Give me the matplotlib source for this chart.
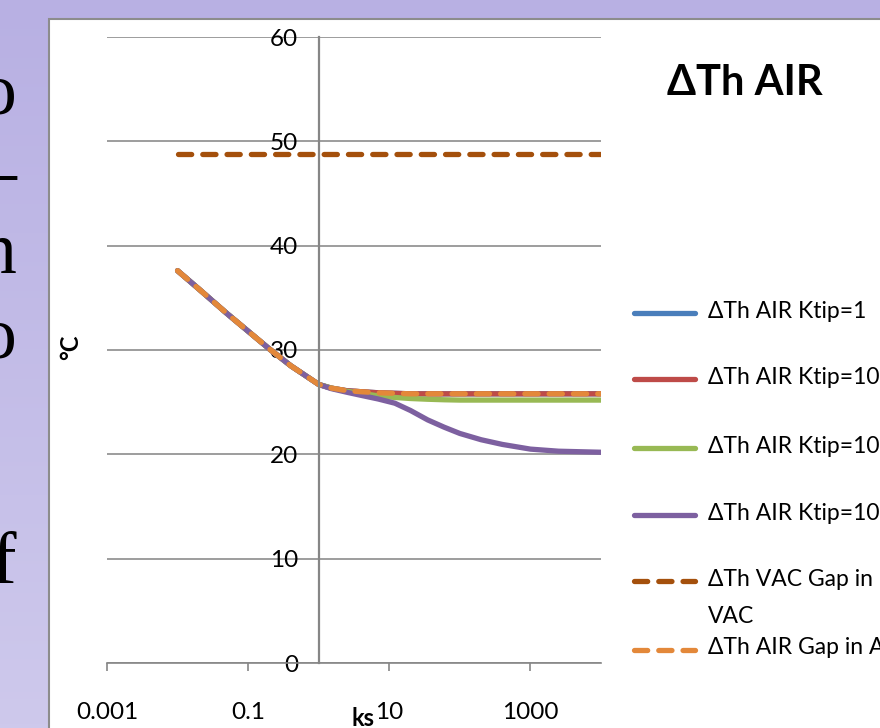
import numpy as np
import matplotlib
matplotlib.use("Agg")
import matplotlib.pyplot as plt
from matplotlib.lines import Line2D
from matplotlib.patches import Rectangle
from matplotlib.ticker import NullLocator

plt.rcParams['font.family'] = ['Lato', 'DejaVu Sans']

# data (x in ks, values in °C)
ks = [0.01, 0.02, 0.05, 0.1, 0.2, 0.4, 0.7, 1, 1.5, 2.5, 4, 7, 12, 20, 35, 60,
      100, 200, 400, 1000, 2500, 10000]
ktip_1 = [37.6, 35.85, 33.5, 31.8, 30.1, 28.5, 27.4, 26.7, 26.35, 26.1, 26.0, 25.9,
          25.85, 25.8, 25.8, 25.8, 25.8, 25.8, 25.8, 25.8, 25.8, 25.8]
ktip_100 = [37.6, 35.85, 33.5, 31.8, 30.1, 28.5, 27.4, 26.7, 26.35, 26.1, 26.0, 25.9,
            25.85, 25.8, 25.8, 25.8, 25.8, 25.8, 25.8, 25.8, 25.8, 25.8]
ktip_1000 = [37.6, 35.85, 33.5, 31.8, 30.1, 28.5, 27.4, 26.7, 26.35, 26.05, 25.85, 25.6,
             25.45, 25.35, 25.28, 25.23, 25.2, 25.2, 25.2, 25.2, 25.2, 25.2]
ktip_10000 = [37.6, 35.85, 33.5, 31.8, 30.1, 28.5, 27.4, 26.7, 26.3, 25.95, 25.65, 25.3,
              24.9, 24.2, 23.3, 22.6, 22.0, 21.4, 20.95, 20.5, 20.3, 20.2]
vac_gap = [48.8] * len(ks)
air_gap = [37.6, 35.85, 33.5, 31.8, 30.1, 28.5, 27.4, 26.7, 26.35, 26.1, 26.0, 25.9,
           25.85, 25.8, 25.8, 25.8, 25.8, 25.8, 25.8, 25.8, 25.8, 25.8]

labels = ["\u0394Th AIR Ktip=1", "\u0394Th AIR Ktip=100", "\u0394Th AIR Ktip=1000",
          "\u0394Th AIR Ktip=10000", "\u0394Th VAC Gap in\nVAC", "\u0394Th AIR Gap in AIR"]
colors = ['#4A7EBB', '#BE4B48', '#98B954', '#7D60A0', '#A4500C', '#E3883A']
series = [ktip_1, ktip_100, ktip_1000, ktip_10000, vac_gap, air_gap]
dashed = [False, False, False, False, True, True]

xticks = [0.001, 0.1, 10, 1000]
xtick_labels = ['0.001', '0.1', '10', '1000']
yticks = [0, 10, 20, 30, 40, 50, 60]

W, H = 880, 728
fig = plt.figure(figsize=(8.8, 7.28), dpi=100)

# slide background + chart area
bg = fig.add_axes([0, 0, 1, 1])
top = np.array([0xB8, 0xB0, 0xE3]) / 255
bot = np.array([0xCE, 0xC9, 0xEC]) / 255
t = np.linspace(0, 1, 200)[:, None]
grad = (top * (1 - t) + bot * t)[:, None, :]
bg.imshow(grad, extent=[0, 1, 0, 1], aspect='auto')
bg.add_patch(Rectangle((49 / W, -0.01), 1, 1 - 19 / H + 0.01, transform=bg.transAxes,
                       facecolor='white', edgecolor='#8C8C8C', lw=1.5, zorder=2))
bg.set_xlim(0, 1)
bg.set_ylim(0, 1)
bg.axis('off')

# letters of the slide text that peek out on the left
for ch, ybase in [('o', 113), ('\u2013', 195), ('n', 273), ('o', 357), ('f', 583)]:
    fig.text(16 / W, 1 - ybase / H, ch, family='Liberation Serif', fontsize=53,
             ha='right', va='baseline', color='black')

ax = fig.add_axes([107 / W, 1 - 663 / H, 494 / W, 626 / H])
ax.patch.set_alpha(0)

lw = 3.8
dash = (0, (2.5, 2.1))
for vals, c, d in zip(series, colors, dashed):
    if d:
        ax.plot(ks, vals, color=c, lw=lw, linestyle=dash,
                dash_capstyle='round', solid_joinstyle='round')
    else:
        ax.plot(ks, vals, color=c, lw=lw, solid_capstyle='round', solid_joinstyle='round')

ax.set_xscale('log')
ax.set_xlim(0.001, 10000)
ax.set_ylim(0, 60)
ax.set_xticks(xticks)
ax.set_xticklabels(xtick_labels)
ax.xaxis.set_minor_locator(NullLocator())
ax.set_yticks(yticks)
ax.yaxis.grid(True, color='#8C8C8C', lw=1.2)
ax.set_axisbelow(True)

for s in ['top', 'right']:
    ax.spines[s].set_visible(False)
ax.spines['left'].set_position(('data', 1))
ax.spines['left'].set_color('#868686')
ax.spines['left'].set_linewidth(1.6)
ax.spines['bottom'].set_color('#868686')
ax.spines['bottom'].set_linewidth(1.2)

ax.tick_params(axis='y', length=0, pad=15, labelsize=17.5)
ax.tick_params(axis='x', direction='out', length=6, width=1.2, color='#868686',
               pad=22, labelsize=17.5)

fig.text(363 / W, 1 - 718 / H, 'ks', fontsize=17, fontweight='bold', ha='center', va='center')
fig.text(71 / W, 1 - 347 / H, '\u00b0C', fontsize=17, fontweight='bold', rotation=90,
         ha='center', va='center')
fig.text(745 / W, 1 - 83 / H, '\u0394Th AIR', fontsize=30, fontweight='bold',
         ha='center', va='center')

# legend, drawn by hand like the Excel one
leg_y = [313, 379, 448, 515, 581, 650]
for lab, c, d, y in zip(labels, colors, dashed, leg_y):
    yf = 1 - y / H
    if d:
        fig.add_artist(Line2D([634 / W, 695 / W], [yf, yf], color=c, lw=lw,
                              linestyle=dash, dash_capstyle='round'))
    else:
        fig.add_artist(Line2D([634 / W, 695 / W], [yf, yf], color=c, lw=lw,
                              solid_capstyle='round'))
    fig.text(708 / W, yf + 12.5 / H, lab, fontsize=16.5, ha='left', va='top', linespacing=1.95)

fig.savefig('out.png', dpi=100)
